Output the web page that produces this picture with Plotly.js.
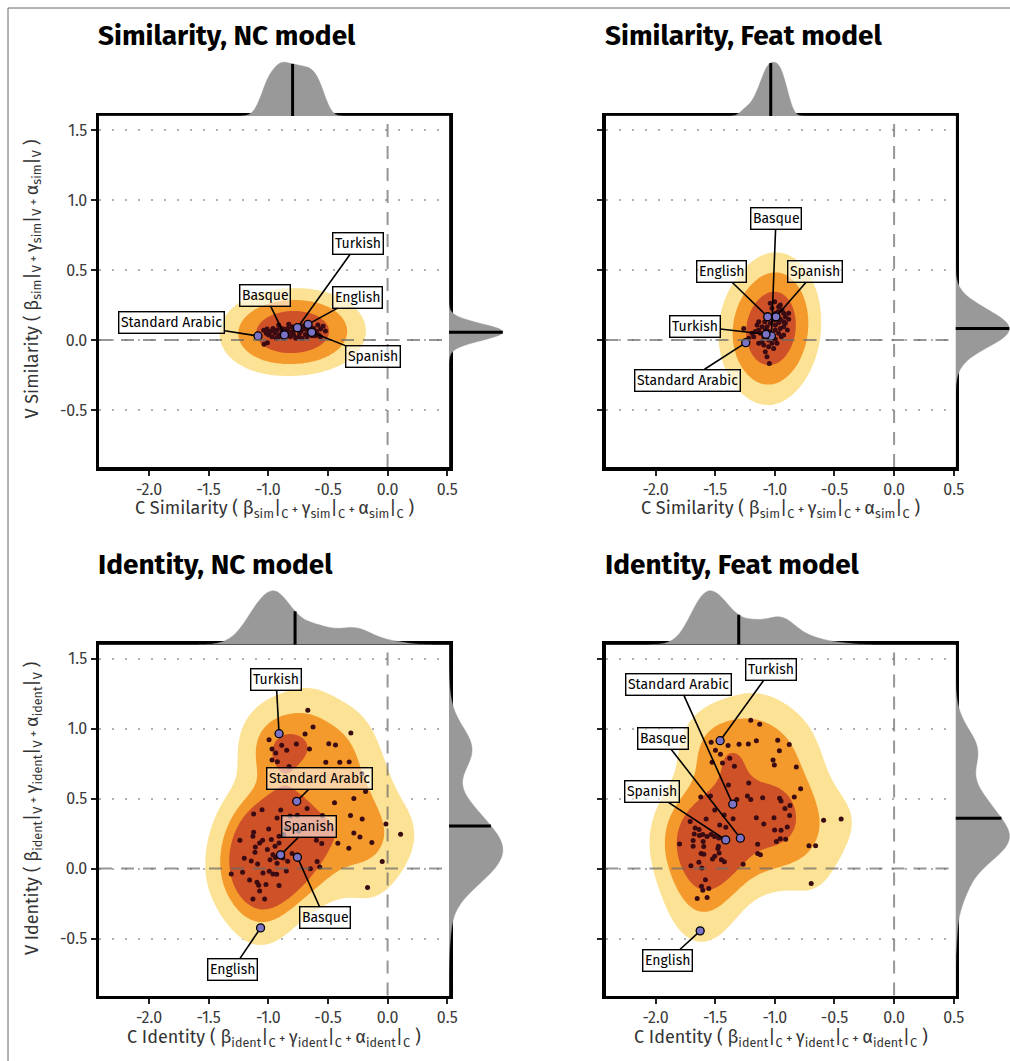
<!DOCTYPE html>
<html><head><meta charset="utf-8">
<script src="https://cdn.plot.ly/plotly-3.0.1.min.js"></script>
<style>body{margin:0;background:#fff}#chart{width:1010px;height:1061px}
.meanline{stroke-dasharray:none !important}</style>
</head><body><div id="chart"></div>
<script>
// ---------------- DATA ----------------
const LANGS = ['Standard Arabic','Basque','Turkish','English','Spanish'];
const X_TICKS = [-2.0,-1.5,-1.0,-0.5,0.0,0.5];
const X_TICK_TEXT = ['-2.0','-1.5','-1.0','-0.5','0.0','0.5'];
const Y_TICKS = [-0.5,0.0,0.5,1.0,1.5];
const Y_TICK_TEXT = ['-0.5','0.0','0.5','1.0','1.5'];

// Similarity, NC model
const simNC_langX = [-1.087,-0.865,-0.756,-0.667,-0.636];
const simNC_langY = [0.029,0.036,0.088,0.112,0.055];
const simNC_otherX = [-1.036,-1.008,-1.039,-1.011,-0.983,-0.961,-0.941,-0.927,-0.913,-0.899,-0.885,-0.837,-0.821,-0.801,-0.787,-0.773,-0.745,-0.725,-0.709,-0.689,-0.669,-0.647,-0.619,-0.597,-0.585,-0.563,-0.541,-0.521,-0.969,-0.933,-0.871,-0.849,-0.815,-0.770,-0.717,-0.675,-0.633,-0.577,-0.997,-1.017,-0.955,-0.871,-0.759,-0.737,-0.899,-0.605,-0.563,-0.793,-0.857,-0.697,-0.653,-0.913,-0.829];
const simNC_otherY = [-0.031,-0.019,0.069,0.079,0.060,0.083,0.048,0.071,0.024,0.088,0.060,0.083,0.055,0.095,0.036,0.071,0.024,0.064,0.102,0.040,0.071,0.095,0.083,0.060,0.107,0.079,0.098,0.064,0.024,0.012,0.012,0.040,0.024,0.012,0.012,0.024,0.031,0.036,0.036,0.048,0.064,0.079,0.102,0.048,0.040,0.031,0.024,0.064,0.060,0.079,0.048,0.107,0.112];

// Similarity, Feat model
const simFeat_langX = [-1.244,-1.029,-1.074,-1.060,-0.990];
const simFeat_langY = [-0.019,0.029,0.041,0.166,0.166];
const simFeat_otherX = [-1.001,-1.038,-0.954,-0.968,-1.024,-0.974,-0.940,-0.926,-0.912,-0.884,-0.954,-0.926,-0.968,-0.996,-1.038,-1.066,-1.107,-1.135,-1.163,-1.121,-1.093,-0.996,-0.954,-0.926,-0.912,-0.968,-0.996,-1.052,-1.107,-1.135,-1.024,-0.982,-1.052,-1.080,-1.066,-1.046,-1.261,-1.149,-1.135,-1.191,-1.177,-0.946,-1.010,-0.926,-0.895,-1.093,-1.080,-1.052,-1.010,-1.085,-0.884,-0.996,-1.219];
const simFeat_otherY = [0.274,0.262,0.250,0.238,0.226,0.202,0.214,0.191,0.167,0.148,0.148,0.131,0.124,0.107,0.119,0.095,0.095,0.071,0.060,0.048,0.024,0.071,0.083,0.095,0.119,0.048,0.005,0.000,-0.012,-0.024,-0.024,-0.024,-0.048,-0.083,-0.119,-0.167,0.083,0.107,0.131,0.048,0.024,0.024,-0.060,0.036,0.071,-0.036,0.071,0.060,0.143,0.131,0.191,0.191,0.012];

// Identity, NC model
const identNC_langX = [-0.762,-0.756,-0.910,-1.065,-0.897];
const identNC_langY = [0.481,0.081,0.964,-0.424,0.098];
const identNC_otherX = [-0.669,-0.625,-0.308,-0.692,-0.994,-0.765,-0.493,-0.437,-0.969,-0.888,-0.846,-0.655,-0.938,-0.969,-0.924,-0.826,-0.518,-0.401,-0.322,-0.216,-0.185,-0.283,-0.445,-1.053,-1.123,-0.896,-0.675,-0.546,-0.756,-0.818,-0.927,-0.311,-0.213,-0.014,-0.997,-0.851,-0.745,0.109,-0.232,-0.283,-1.238,-1.123,-1.129,-1.048,-1.073,-0.975,-0.910,-0.910,-0.871,-0.944,-0.597,-0.552,-0.417,-0.325,-0.132,-1.109,-1.112,-1.008,-0.961,-0.941,-0.877,-0.801,-1.202,-1.143,-1.090,-0.986,-0.927,-0.838,-0.591,-0.569,-0.647,-0.045,-1.311,-1.216,-1.045,-0.992,-0.961,-0.930,-0.849,-1.157,-1.095,-1.081,-1.020,-0.910,-1.073,-1.129,-1.031,-0.168];
const identNC_otherY = [1.131,1.012,0.969,0.962,0.921,0.890,0.893,0.883,0.855,0.881,0.845,0.855,0.826,0.776,0.764,0.729,0.760,0.760,0.762,0.679,0.550,0.500,0.471,0.421,0.390,0.419,0.429,0.379,0.381,0.376,0.362,0.379,0.355,0.319,0.283,0.286,0.267,0.245,0.226,0.255,0.202,0.260,0.231,0.202,0.183,0.207,0.231,0.183,0.243,0.160,0.202,0.179,0.181,0.145,0.186,0.155,0.117,0.136,0.098,0.079,0.076,0.107,0.074,0.055,0.033,0.064,0.038,0.052,0.050,0.012,-0.002,0.050,-0.038,-0.026,-0.031,-0.019,-0.038,-0.040,-0.017,-0.081,-0.098,-0.119,-0.114,-0.121,-0.160,-0.217,-0.217,-0.136];

// Identity, Feat model
const identFeat_langX = [-1.353,-1.289,-1.459,-1.626,-1.412];
const identFeat_langY = [0.460,0.217,0.914,-0.445,0.205];
const identFeat_otherX = [-1.202,-1.127,-1.534,-1.392,-1.300,-1.222,-1.155,-0.976,-0.879,-1.498,-1.456,-0.962,-1.378,-1.526,-1.439,-1.339,-1.015,-1.004,-0.820,-1.219,-1.389,-0.784,-1.621,-1.540,-1.319,-1.230,-1.202,-1.102,-0.960,-0.948,-0.837,-0.873,-0.915,-0.876,-1.504,-1.425,-1.350,-1.155,-1.007,-1.710,-1.576,-1.462,-1.411,-1.093,-0.896,-1.668,-1.635,-1.676,-1.632,-1.604,-1.534,-1.506,-1.568,-1.470,-1.685,-1.601,-1.002,-0.948,-0.954,-0.909,-0.987,-1.799,-1.685,-1.596,-1.473,-1.478,-1.144,-0.714,-0.658,-1.618,-1.596,-1.467,-1.504,-1.523,-1.423,-1.704,-1.637,-1.612,-1.266,-1.144,-1.121,-0.591,-0.444,-1.582,-1.615,-1.604,-1.554,-1.651,-1.568,-0.695,-1.448];
const identFeat_otherY = [1.060,1.031,0.902,0.879,0.888,0.890,0.914,0.917,0.886,0.845,0.817,0.843,0.788,0.760,0.755,0.731,0.776,0.740,0.726,0.612,0.598,0.571,0.512,0.519,0.493,0.519,0.493,0.507,0.502,0.483,0.512,0.450,0.429,0.379,0.419,0.383,0.357,0.364,0.364,0.336,0.355,0.312,0.295,0.319,0.298,0.290,0.279,0.248,0.236,0.243,0.243,0.229,0.229,0.219,0.200,0.193,0.276,0.274,0.214,0.210,0.193,0.176,0.160,0.157,0.160,0.143,0.174,0.164,0.164,0.107,0.102,0.112,0.088,0.069,0.048,0.021,0.045,0.005,0.031,0.107,0.098,0.345,0.355,-0.079,-0.126,-0.155,-0.143,-0.214,-0.207,-0.107,0.064];

// ---------------- LABEL POSITIONS (layout, data units) ----------------
const simNC_labelX = [-1.809,-1.025,-0.249,-0.255,-0.120];
const simNC_labelY = [0.124,0.321,0.690,0.305,-0.119];
const simFeat_labelX = [-1.730,-0.990,-1.671,-1.450,-0.661];
const simFeat_labelY = [-0.286,0.869,0.100,0.488,0.488];
const identNC_labelX = [-0.571,-0.529,-0.935,-1.300,-0.655];
const identNC_labelY = [0.643,-0.352,1.348,-0.721,0.302];
const identFeat_labelX = [-1.805,-1.939,-1.029,-1.897,-2.028];
const identFeat_labelY = [1.319,0.929,1.421,-0.657,0.548];

// ---------------- STYLE / GEOMETRY ----------------
const W = 1010, H = 1061;
const FONT = '"Fira Sans","Open Sans","Noto Sans",sans-serif';
const X_RANGE = [-2.42, 0.515];
const Y_RANGE = [-0.907, 1.6];
const COLS = [[99, 449], [605.5, 955.5]];
const ROWS = [[116, 467], [644.7, 995.5]];
const MARG = 56, PEAK = 53.8;
const FILLS = ['#FCE294', '#F49A2D', '#CE5128'];
const PROBS = [0.95, 0.8, 0.5];

const sub = (a, b) => `${a}<sub>${b}</sub>`;
function axTitle(dim, name, s){
  const p = '<span style="font-size:13px"> + </span>';
  return `${dim} ${name} ( ${sub('β',s)}|${sub('',dim)}${p}${sub('γ',s)}|${sub('',dim)}${p}${sub('α',s)}|${sub('',dim)} )`;
}

const PANELS = [
  {title:'Similarity, NC model', col:0, row:0, lx:simNC_langX, ly:simNC_langY, ox:simNC_otherX, oy:simNC_otherY,
   labX:simNC_labelX, labY:simNC_labelY, kbw:[0.205,0.125], mbw:[0.05,0.05], name:'Similarity', s:'sim', ylab:true},
  {title:'Similarity, Feat model', col:1, row:0, lx:simFeat_langX, ly:simFeat_langY, ox:simFeat_otherX, oy:simFeat_otherY,
   labX:simFeat_labelX, labY:simFeat_labelY, kbw:[0.15,0.2], mbw:[0.04,0.09], name:'Similarity', s:'sim', ylab:false},
  {title:'Identity, NC model', col:0, row:1, lx:identNC_langX, ly:identNC_langY, ox:identNC_otherX, oy:identNC_otherY,
   labX:identNC_labelX, labY:identNC_labelY, kbw:[0.175,0.18], mbw:[0.1,0.12], name:'Identity', s:'ident', ylab:true},
  {title:'Identity, Feat model', col:1, row:1, lx:identFeat_langX, ly:identFeat_langY, ox:identFeat_otherX, oy:identFeat_otherY,
   labX:identFeat_labelX, labY:identFeat_labelY, kbw:[0.18,0.175], mbw:[0.1,0.12], name:'Identity', s:'ident', ylab:false}
];

function kde2d(xs, ys, bw, xr, yr, nx, ny){
  const gx=[], gy=[];
  for(let i=0;i<nx;i++) gx.push(xr[0]+(xr[1]-xr[0])*i/(nx-1));
  for(let j=0;j<ny;j++) gy.push(yr[0]+(yr[1]-yr[0])*j/(ny-1));
  const ex = xs.map(x0 => gx.map(g => Math.exp(-0.5*((g-x0)/bw[0])**2)));
  const ey = ys.map(y0 => gy.map(g => Math.exp(-0.5*((g-y0)/bw[1])**2)));
  const z=[];
  for(let j=0;j<ny;j++){
    const row=new Array(nx).fill(0);
    for(let k=0;k<xs.length;k++){
      const e=ey[k][j]; if(e<1e-10) continue;
      const exk=ex[k];
      for(let i=0;i<nx;i++) row[i]+=e*exk[i];
    }
    z.push(row);
  }
  return {gx, gy, z};
}
function hdr(z, probs){
  const flat = z.flat().sort((a,b)=>b-a);
  const tot = flat.reduce((s,v)=>s+v,0);
  return probs.map(p=>{let c=0; for(let i=0;i<flat.length;i++){c+=flat[i]; if(c>=p*tot) return flat[i];} return flat[flat.length-1];});
}

const traces=[], shapes=[], annotations=[];
const layout = {width:W, height:H, margin:{l:0,r:0,t:0,b:0}, paper_bgcolor:'#fff', plot_bgcolor:'rgba(0,0,0,0)',
  showlegend:false, font:{family:FONT, color:'#333'}, shapes, annotations};

PANELS.forEach((P, idx)=>{
  const n = idx+1;
  const [x0p, x1p] = COLS[P.col], [y0p, y1p] = ROWS[P.row];
  const xa = 'x'+(n===1?'':n), ya = 'y'+(n===1?'':n);
  const xdom = [x0p/W, x1p/W], ydom = [1-y1p/H, 1-y0p/H];
  layout['xaxis'+(n===1?'':n)] = {domain:xdom, range:X_RANGE, anchor:ya, type:'linear',
    showline:true, mirror:true, linewidth:3.5, linecolor:'#000', ticks:'outside', ticklen:5, tickwidth:2, tickcolor:'#222',
    tickvals:X_TICKS, ticktext:X_TICK_TEXT, tickfont:{size:16, color:'#3a3a3a', family:FONT}, showgrid:false, zeroline:false, fixedrange:true};
  layout['yaxis'+(n===1?'':n)] = {domain:ydom, range:Y_RANGE, anchor:xa, type:'linear',
    showline:true, mirror:true, linewidth:3.5, linecolor:'#000', ticks:'outside', ticklen:5, tickwidth:2, tickcolor:'#222',
    tickvals:Y_TICKS, ticktext:Y_TICK_TEXT, showticklabels:P.ylab, tickfont:{size:16, color:'#3a3a3a', family:FONT},
    showgrid:true, gridcolor:'#b0b0b0', gridwidth:2, griddash:'2px,11px', zeroline:false, fixedrange:true};

  // marginal axes
  const tX='xaxis'+(n+4), tY='yaxis'+(n+4), rX='xaxis'+(n+8), rY='yaxis'+(n+8);
  const topDom=[1-y0p/H, Math.min(1,1-(y0p-MARG)/H)];
  const rDom=[x1p/W, Math.min(1,(x1p+MARG)/W)];
  layout[tX]={domain:xdom, range:X_RANGE, anchor:'y'+(n+4), visible:false, type:'linear', fixedrange:true};
  layout[tY]={domain:topDom, range:[0,(topDom[1]-topDom[0])*H/PEAK], anchor:'x'+(n+4), visible:false, type:'linear', fixedrange:true};
  layout[rX]={domain:rDom, range:[0,(rDom[1]-rDom[0])*W/PEAK], anchor:'y'+(n+8), visible:false, type:'linear', fixedrange:true};
  layout[rY]={domain:ydom, range:Y_RANGE, anchor:'x'+(n+8), visible:false, type:'linear', fixedrange:true};

  const allX = P.ox.concat(P.lx), allY = P.oy.concat(P.ly);

  // density (HDR) regions
  const K = kde2d(allX, allY, P.kbw, X_RANGE, Y_RANGE, 160, 140);
  const lv = hdr(K.z, PROBS);
  lv.forEach((thr,i)=>{
    traces.push({type:'contour', x:K.gx, y:K.gy, z:K.z, xaxis:xa, yaxis:ya, showscale:false, hoverinfo:'skip',
      contours:{type:'constraint', operation:'<', value:thr}, fillcolor:FILLS[i], line:{width:0, color:FILLS[i], smoothing:1}});
  });

  // points
  traces.push({type:'scatter', mode:'markers', x:P.ox, y:P.oy, xaxis:xa, yaxis:ya, hoverinfo:'skip',
    marker:{size:5, color:'#3a0b12'}});
  traces.push({type:'scatter', mode:'markers', x:P.lx, y:P.ly, text:LANGS, xaxis:xa, yaxis:ya, hoverinfo:'skip',
    marker:{size:8, color:'#7c72c6', line:{color:'#000', width:1.3}}});

  // marginals
  const vStyle = {side:'positive', width:2, scalemode:'width', spanmode:'manual', points:false, box:{visible:false},
    meanline:{visible:true, color:'#000', width:3}, fillcolor:'#999999', line:{color:'#999999', width:0.5}, hoverinfo:'skip', showlegend:false};
  traces.push(Object.assign({type:'violin', orientation:'h', x:allX, y0:0, xaxis:'x'+(n+4), yaxis:'y'+(n+4),
    bandwidth:P.mbw[0], span:X_RANGE}, vStyle));
  traces.push(Object.assign({type:'violin', orientation:'v', y:allY, x0:0, xaxis:'x'+(n+8), yaxis:'y'+(n+8),
    bandwidth:P.mbw[1], span:Y_RANGE}, vStyle));

  // reference lines
  const dl = {color:'rgba(105,105,105,0.7)', width:2, dash:'13px,9px'};
  shapes.push({type:'line', xref:xa, yref:ya+' domain', x0:0, x1:0, y0:0, y1:1, line:dl, layer:'above'});
  shapes.push({type:'line', xref:xa+' domain', yref:ya, x0:0, x1:1, y0:0, y1:0, line:dl, layer:'above'});

  // language labels
  LANGS.forEach((L,i)=>{
    annotations.push({xref:xa, yref:ya, x:P.lx[i], y:P.ly[i], axref:xa, ayref:ya, ax:P.labX[i], ay:P.labY[i],
      text:L, showarrow:true, arrowhead:0, arrowwidth:1.6, arrowcolor:'#000', standoff:4,
      font:{size:14, color:'#000', family:FONT}, bgcolor:'rgba(255,255,255,0.55)', bordercolor:'#000', borderwidth:1.4, borderpad:1.5});
  });

  // panel title
  annotations.push({xref:'paper', yref:'paper', x:(x0p-3)/W, y:1-(y0p-80)/H, xanchor:'left', yanchor:'middle', showarrow:false,
    text:'<b>'+P.title+'</b>', font:{size:28, color:'#000', family:FONT}});
  // axis titles
  annotations.push({xref:'paper', yref:'paper', x:((x0p+x1p)/2)/W, y:1-(y1p+42)/H, xanchor:'center', yanchor:'middle', showarrow:false,
    text:axTitle('C', P.name, P.s), font:{size:18, color:'#333', family:FONT}});
  if(P.ylab){
    annotations.push({xref:'paper', yref:'paper', x:33/W, y:1-((y0p+y1p)/2-12)/H, xanchor:'center', yanchor:'middle', showarrow:false,
      textangle:-90, text:axTitle('V', P.name, P.s), font:{size:18, color:'#333', family:FONT}});
  }
});

// figure frame (left and top edges)
shapes.push({type:'line', xref:'paper', yref:'paper', x0:8/W, x1:1.02, y0:1-8/H, y1:1-8/H, line:{color:'#666', width:1}});
shapes.push({type:'line', xref:'paper', yref:'paper', x0:8/W, x1:8/W, y0:-0.02, y1:1-8/H, line:{color:'#666', width:1}});

Plotly.newPlot('chart', traces, layout, {displayModeBar:false, staticPlot:true});
</script></body></html>
